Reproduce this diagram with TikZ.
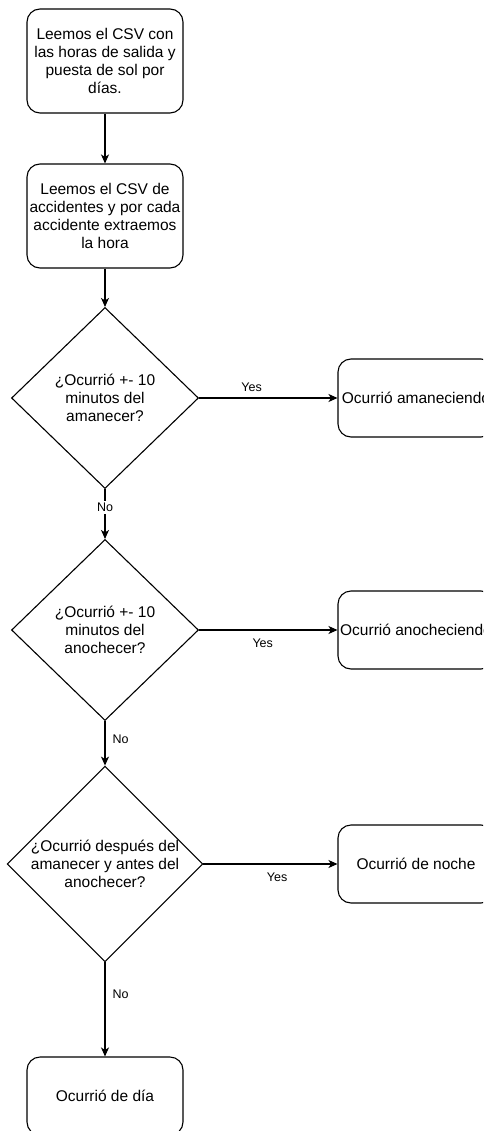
\documentclass[tikz,border=0pt]{standalone}
\usepackage{fontspec}
\setmainfont{Liberation Sans}
\usetikzlibrary{shapes.geometric,arrows.meta}

\tikzset{
  x=1pt, y=-1pt,
  every node/.style={font=\fontsize{15.5}{18}\selectfont, inner sep=0pt},
  procbox/.style={draw, rounded corners=13pt, line width=1.1pt,
    minimum width=156pt, align=center},
  decision/.style={draw, diamond, line width=1.1pt, align=center,
    minimum width=187pt, minimum height=181pt, inner sep=0pt},
  flow/.style={draw, line width=1.1pt, -{Stealth[length=9pt,width=8pt,inset=2.5pt]}},
  edgelabel/.style={font=\fontsize{12.5}{14}\selectfont},
}

\begin{document}
\begin{tikzpicture}
  \useasboundingbox (0,0) rectangle (483,1131);
  \clip (0,0) rectangle (483,1131);

  % process steps
  \node[procbox, minimum height=104pt] (read1) at (105,61)
    {Leemos el CSV con\\las horas de salida y\\puesta de sol por\\días.};
  \node[procbox, minimum height=104pt] (read2) at (105,216)
    {Leemos el CSV de\\accidentes y por cada\\accidente extraemos\\la hora};

  % decisions
  \node[decision] (q1) at (105,398) {¿Ocurrió +- 10\\minutos del\\amanecer?};
  \node[decision] (q2) at (105,630) {¿Ocurrió +- 10\\minutos del\\anochecer?};
  \node[decision] (q3) at (105,864) {¿Ocurrió después del\\amanecer y antes del\\anochecer?};

  % outcomes
  \node[procbox, minimum height=78pt] (dawn)  at (416,398) {Ocurrió amaneciendo};
  \node[procbox, minimum height=78pt] (dusk)  at (416,630) {Ocurrió anocheciendo};
  \node[procbox, minimum height=78pt] (night) at (416,864) {Ocurrió de noche};
  \node[procbox, minimum height=78pt] (day)   at (105,1096) {Ocurrió de día};

  % connectors
  \draw[flow] (read1) -- (read2);
  \draw[flow] (read2) -- (q1);

  \draw[flow] (q1.east) -- node[edgelabel, above=6pt, pos=0.38] {Yes} (dawn.west);
  \draw[flow] (q1.south) -- node[edgelabel, fill=white, inner sep=2pt, pos=0.37] {No} (q2.north);

  \draw[flow] (q2.east) -- node[edgelabel, below=8pt, pos=0.46] {Yes} (dusk.west);
  \draw[flow] (q2.south) -- node[edgelabel, right=7pt, pos=0.4] {No} (q3.north);

  \draw[flow] (q3.east) -- node[edgelabel, below=8pt, pos=0.55] {Yes} (night.west);
  \draw[flow] (q3.south) -- node[edgelabel, right=7pt, pos=0.34] {No} (day.north);
\end{tikzpicture}
\end{document}
